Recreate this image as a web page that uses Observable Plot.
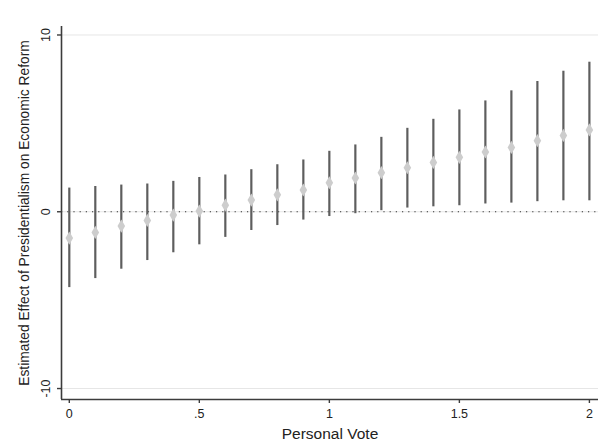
<!DOCTYPE html>
<html>
<head>
<meta charset="utf-8">
<script src="https://cdn.jsdelivr.net/npm/d3@7"></script>
<script src="https://cdn.jsdelivr.net/npm/@observablehq/plot@0.6"></script>
<style>
  html, body { margin: 0; padding: 0; background: #fff; }
  svg { font-family: "Liberation Sans", Arial, sans-serif; }
</style>
</head>
<body>
<div id="chart"></div>
<script>
const personalVote = [0, 0.1, 0.2, 0.3, 0.4, 0.5, 0.6, 0.7, 0.8, 0.9, 1.0, 1.1, 1.2, 1.3, 1.4, 1.5, 1.6, 1.7, 1.8, 1.9, 2.0];
const effect = [-1.49, -1.17, -0.81, -0.49, -0.19, 0.04, 0.37, 0.66, 0.96, 1.23, 1.64, 1.91, 2.21, 2.49, 2.79, 3.08, 3.38, 3.64, 4.02, 4.32, 4.63];
const upper = [1.34, 1.43, 1.51, 1.57, 1.72, 1.94, 2.08, 2.38, 2.66, 2.93, 3.42, 3.78, 4.21, 4.72, 5.23, 5.76, 6.27, 6.84, 7.37, 7.95, 8.46];
const lower = [-4.29, -3.78, -3.25, -2.76, -2.32, -1.87, -1.45, -1.06, -0.78, -0.47, -0.27, -0.11, 0.06, 0.21, 0.28, 0.34, 0.44, 0.49, 0.57, 0.62, 0.62];
const xTicks = [0, 0.5, 1, 1.5, 2];
const xTickLabels = ["0", ".5", "1", "1.5", "2"];
const yTicks = [-10, 0, 10];
const yTickLabels = ["-10", "0", "10"];
const xDomain = [-0.03, 2.035];
const yDomain = [-10.62, 10.48];

const data = personalVote.map((x, i) => ({x, y: effect[i], lo: lower[i], hi: upper[i]}));

const axisColor = "#3c3c3c";

const chart = Plot.plot({
  width: 606,
  height: 442,
  marginLeft: 61,
  marginRight: 8,
  marginTop: 26,
  marginBottom: 43,
  style: {fontFamily: '"Liberation Sans", Arial, sans-serif', fontSize: "12px", color: "#222"},
  x: {domain: xDomain},
  y: {domain: yDomain},
  marks: [
    Plot.ruleY(yTicks, {stroke: "#e6e6e6", strokeWidth: 1}),
    Plot.ruleY([0], {stroke: "#333", strokeWidth: 1.2, strokeDasharray: "1.2,5"}),
    Plot.ruleX(data, {x: "x", y1: "lo", y2: "hi", stroke: "#5e5e5e", strokeWidth: 2.2}),
    Plot.dot(data, {x: "x", y: "y", symbol: "diamond", r: 4, fill: "#cdcdcd", stroke: "none"}),
    Plot.ruleX([xDomain[0]], {stroke: axisColor, strokeWidth: 1.6}),
    Plot.ruleY([yDomain[0]], {stroke: axisColor, strokeWidth: 1.6}),
    Plot.axisX(xTicks, {
      tickSize: 4, stroke: axisColor, strokeWidth: 1.4, tickPadding: 6,
      tickFormat: (d, i) => xTickLabels[i], fontSize: 12.5, fill: "#222",
      label: null
    }),
    Plot.axisX({
      ticks: [], tickSize: 0, label: "Personal Vote", labelAnchor: "center", labelArrow: "none",
      labelOffset: 39, fontSize: 15.5, fill: "#222"
    }),
    Plot.axisY(yTicks, {
      tickSize: 4, stroke: axisColor, strokeWidth: 1.4, tickPadding: 8, tickRotate: -90,
      tickFormat: (d, i) => yTickLabels[i], fontSize: 12.5, fill: "#222",
      label: null
    }),
    Plot.axisY({
      ticks: [], tickSize: 0, label: "Estimated Effect of Presidentialism on Economic Reform",
      labelAnchor: "center", labelArrow: "none", labelOffset: 42, fontSize: 13.8, fill: "#222"
    })
  ]
});
document.getElementById("chart").appendChild(chart);
</script>
</body>
</html>
